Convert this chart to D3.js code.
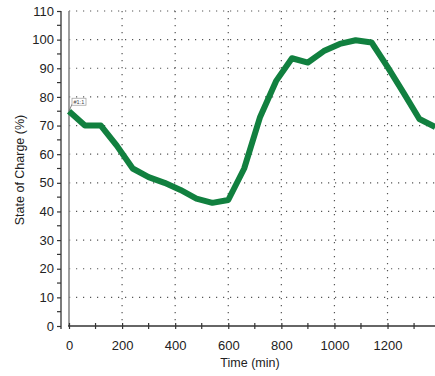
<!DOCTYPE html>
<html><head><meta charset="utf-8">
<script src="https://cdn.jsdelivr.net/npm/d3@7"></script>
<style>body{margin:0;background:#fff}svg{display:block;font-family:"Liberation Sans",Arial,sans-serif}</style>
</head><body>
<svg id="c" width="435" height="376"></svg>
<script>
const times = [0,60,120,180,240,300,360,420,480,540,600,660,720,780,840,900,960,1020,1080,1140,1200,1260,1320,1380];
const soc   = [75,70,70,63,55,52,50,47.5,44.5,43,44,55,73,85.5,93.5,92,96,98.5,99.8,99,90.5,81.5,72.3,69.5];
const xTicks = [0,200,400,600,800,1000,1200];
const yTicks = [0,10,20,30,40,50,60,70,80,90,100,110];
const annotation = "#1:1";

const svg = d3.select("#c");
const x = d3.scaleLinear().domain([0,1380]).range([69,435.3]);
const y = d3.scaleLinear().domain([0,110]).range([326,11]);
const axisX = 61;

// horizontal dotted grid
svg.append("g").selectAll("line").data(yTicks.filter(d=>d>0)).join("line")
  .attr("x1",x(0)).attr("x2",435).attr("y1",d=>y(d)).attr("y2",d=>y(d))
  .attr("stroke","#555").attr("stroke-width",1.2).attr("stroke-dasharray","1.2,5.8");
// vertical dotted grid
svg.append("g").selectAll("line").data(xTicks.filter(d=>d>0)).join("line")
  .attr("x1",d=>x(d)).attr("x2",d=>x(d)).attr("y1",y(110)).attr("y2",y(0))
  .attr("stroke","#555").attr("stroke-width",1.2).attr("stroke-dasharray","1.2,5.8");
// solid grey line at x=0
svg.append("line").attr("x1",x(0)).attr("x2",x(0)).attr("y1",y(110)).attr("y2",y(0))
  .attr("stroke","#888").attr("stroke-width",1.6);

// y axis
const ya = svg.append("g").attr("transform",`translate(${axisX},0)`)
  .call(d3.axisLeft(y).tickValues(yTicks).tickSize(4).tickPadding(3));
ya.select(".domain").attr("d",`M0,${y(110)}V${y(0)+3}`).attr("stroke","#333").attr("stroke-width",1.3);
ya.selectAll(".tick line").attr("stroke","#333").attr("stroke-width",1.2);
ya.selectAll("text").attr("font-size",13).attr("fill","#222");
svg.append("g").attr("transform",`translate(${axisX},0)`).selectAll("line")
  .data(d3.range(5,110,10)).join("line")
  .attr("x1",-4).attr("x2",0).attr("y1",d=>y(d)).attr("y2",d=>y(d))
  .attr("stroke","#333").attr("stroke-width",1.2);

// x axis
const xa = svg.append("g").attr("transform",`translate(0,${y(0)})`)
  .call(d3.axisBottom(x).tickValues(xTicks).tickFormat(d3.format("d")).tickSize(3).tickPadding(12));
xa.select(".domain").attr("d",`M${x(0)-1},0H435`).attr("stroke","#333").attr("stroke-width",1.3);
xa.selectAll(".tick line").attr("y1",-3).attr("stroke","#333").attr("stroke-width",1.2);
xa.selectAll("text").attr("font-size",13).attr("fill","#222");
svg.append("g").attr("transform",`translate(0,${y(0)})`).selectAll("line")
  .data(d3.range(100,1380,200)).join("line")
  .attr("x1",d=>x(d)).attr("x2",d=>x(d)).attr("y1",-3).attr("y2",3)
  .attr("stroke","#333").attr("stroke-width",1.2);

// labels
svg.append("text").attr("x",250).attr("y",367).attr("text-anchor","middle")
  .attr("font-size",12.5).attr("fill","#222").text("Time (min)");
svg.append("text").attr("transform","translate(24,170) rotate(-90)").attr("text-anchor","middle")
  .attr("font-size",12.5).attr("fill","#222").text("State of Charge (%)");

// line
const data = times.map((t,i)=>({t,v:soc[i]}));
svg.append("path").datum(data)
  .attr("d",d3.line().x(d=>x(d.t)).y(d=>y(d.v)))
  .attr("fill","none").attr("stroke","#11803f").attr("stroke-width",6)
  .attr("stroke-linejoin","round");

// annotation
const ax = x(times[0]), ay = y(soc[0]);
svg.append("line").attr("x1",ax).attr("y1",ay).attr("x2",ax+3).attr("y2",ay-7)
  .attr("stroke","#666").attr("stroke-width",0.8);
svg.append("rect").attr("x",ax+3).attr("y",ay-13).attr("width",14).attr("height",7)
  .attr("fill","#fff").attr("stroke","#999").attr("stroke-width",0.7);
svg.append("text").attr("x",ax+4.5).attr("y",ay-7.6).attr("font-size",5.5).attr("fill","#444").text(annotation);
</script>
</body></html>
